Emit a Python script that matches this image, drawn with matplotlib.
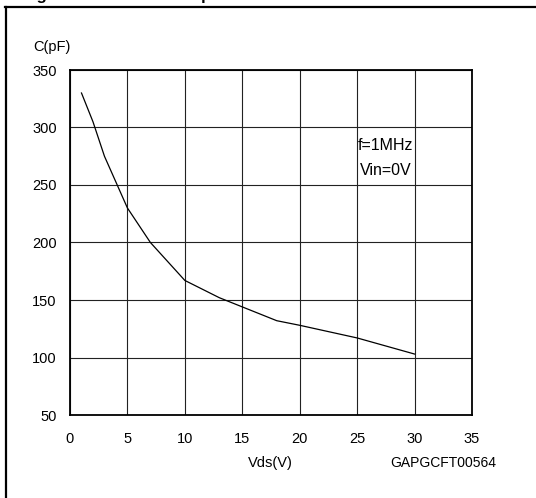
import matplotlib
matplotlib.use("Agg")
import matplotlib.pyplot as plt
from matplotlib.lines import Line2D

plt.rcParams['font.family'] = ['Liberation Sans', 'DejaVu Sans']

# capacitance vs drain-source voltage
vds = [1, 2, 3, 5, 7, 10, 13, 18, 20, 25, 30]
cap = [330, 305, 275, 230, 200, 167, 152, 132, 128, 117, 103]

x_ticks = [0, 5, 10, 15, 20, 25, 30, 35]
y_ticks = [50, 100, 150, 200, 250, 300, 350]

W, H = 536, 498
fig = plt.figure(figsize=(W / 100, H / 100), dpi=100)
ax = fig.add_axes([70 / W, 1 - 415 / H, 402 / W, 345 / H])

ax.plot(vds, cap, color="black", lw=0.9)

ax.set_xlim(0, 35)
ax.set_ylim(50, 350)
ax.set_xticks(x_ticks)
ax.set_yticks(y_ticks)
ax.tick_params(length=0, labelsize=10.5, colors="black")
ax.tick_params(axis="x", pad=12)
ax.tick_params(axis="y", pad=9.5)
ax.grid(True, color="#222222", lw=0.8)
for s in ax.spines.values():
    s.set_linewidth(1.3)
    s.set_color("black")

ax.text(27.5, 284, "f=1MHz", ha="center", va="center", fontsize=11.5)
ax.text(27.5, 263, "Vin=0V", ha="center", va="center", fontsize=11.5)

fig.text(33 / W, 1 - 47 / H, "C(pF)", ha="left", va="center", fontsize=10.5)
fig.text(270 / W, 1 - 463 / H, "Vds(V)", ha="center", va="center", fontsize=10.5)
fig.text(443 / W, 1 - 463 / H, "GAPGCFT00564", ha="center", va="center", fontsize=10)

# page frame and clipped figure caption
fig.add_artist(Line2D([5 / W, 1], [1 - 7 / H, 1 - 7 / H], color="black", lw=1.6,
                      transform=fig.transFigure))
fig.add_artist(Line2D([5.5 / W, 5.5 / W], [0, 1 - 7 / H], color="black", lw=1.6,
                      transform=fig.transFigure))
fig.text(22 / W, 1.0, "Figure 8.", ha="left", va="baseline", fontsize=12, fontweight="bold")
fig.text(180 / W, 1.0, "Capacitance variations", ha="left", va="baseline", fontsize=12,
         fontweight="bold")

fig.savefig("out.png", dpi=100)
